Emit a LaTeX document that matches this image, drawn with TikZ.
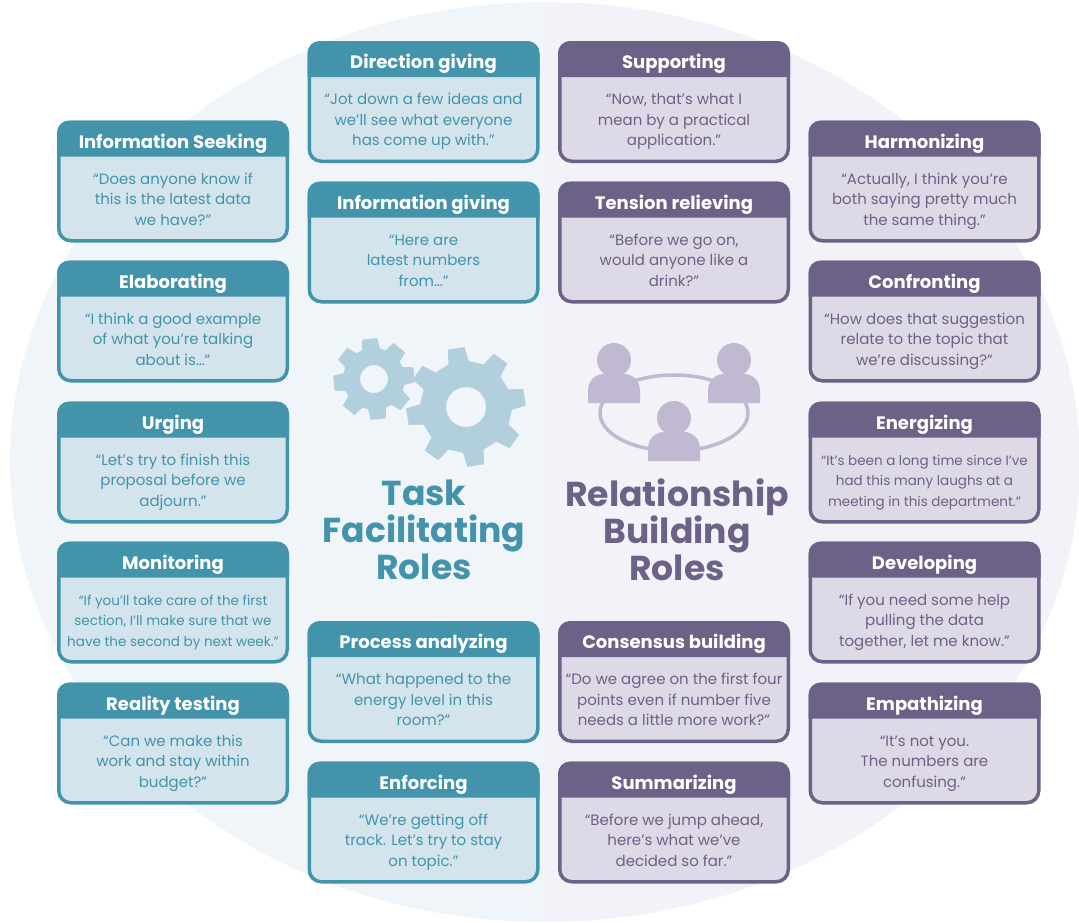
\documentclass[tikz,border=0pt]{standalone}
\usepackage{fontspec}
\setmainfont{Poppins}
\definecolor{tealdark}{HTML}{4393AB}
\definecolor{teallight}{HTML}{D3E4ED}
\definecolor{plumdark}{HTML}{6C6186}
\definecolor{plumlight}{HTML}{DED9E7}
\definecolor{gearblue}{HTML}{B2CFDD}
\definecolor{peoplelilac}{HTML}{C1B9D1}
\definecolor{halfblue}{HTML}{F0F5FA}
\definecolor{halfplum}{HTML}{F2F2F8}
\tikzset{
cardbox/.style={rectangle,rounded corners=12pt,line width=3.5pt,minimum width=228.5pt,minimum height=118.5pt,inner sep=0pt},
cardtitle/.style={white,font=\bfseries\fontsize{18}{21}\selectfont,inner sep=0pt},
cardquote/.style={align=center,inner sep=0pt,font=\fontsize{15}{20.5}\selectfont},
roletitle/.style={align=center,inner sep=0pt,font=\bfseries\fontsize{34.6}{37}\selectfont},
}
\newcommand{\tightquote}{\fontsize{13.5}{20.5}\selectfont}
% name, x, y, colour, title, quote
\newcommand{\rolecard}[6]{
\node[cardbox,draw=#4dark,fill=#4light] (#1) at (#2,#3) {};
\fill[#4dark] ([yshift=-36pt]#1.north west) [rounded corners=12pt] -- (#1.north west) -- (#1.north east) [sharp corners] -- ([yshift=-36pt]#1.north east) -- cycle;
\node[cardtitle] (#1title) at ([yshift=-23.5pt]#1.north) {\strut #5};
\node[cardquote,text=#4dark] (#1quote) at ([yshift=-19pt]#1.center) {\strut #6\strut};
}
% x, y, root radius, tip radius, rotation, hole, half width at root, half width at tip
\newcommand{\gearwheel}[8]{
\fill[gearblue,even odd rule,shift={(#1,#2)}] (#5-#7:#3) \foreach \t in {0,45,...,315}{ -- (#5+\t-#7:#3) -- (#5+\t-#8:#4) -- (#5+\t+#8:#4) -- (#5+\t+#7:#3)} -- cycle (0,0) circle (#6);
}
% x, y of the head
\newcommand{\person}[2]{
\fill[peoplelilac] (#1,#2) circle (17);
\fill[peoplelilac] (#1-26,#2+43) -- (#1-26,#2+31) .. controls (#1-26,#2+20) and (#1-18,#2+14) .. (#1-10,#2+14) -- (#1+10,#2+14) .. controls (#1+18,#2+14) and (#1+26,#2+20) .. (#1+26,#2+31) -- (#1+26,#2+43) -- cycle;
}
\begin{document}
\begin{tikzpicture}[x=1pt,y=-1pt]
\useasboundingbox (0,0) rectangle (1079,922);

\fill[halfblue] (545,2) arc[start angle=90,end angle=270,x radius=535pt,y radius=460pt] -- cycle;
\fill[halfplum] (545,2) arc[start angle=90,end angle=-90,x radius=535pt,y radius=460pt] -- cycle;

\rolecard{seeking}{173}{181.5}{teal}{Information Seeking}{“Does anyone know if\\this is the latest data\\we have?”}
\rolecard{elaborating}{173}{321.5}{teal}{Elaborating}{“I think a good example\\of what you’re talking\\about is…”}
\rolecard{urging}{173}{462.5}{teal}{Urging}{“Let’s try to finish this\\proposal before we\\adjourn.”}
\rolecard{monitoring}{173}{602.5}{teal}{Monitoring}{\tightquote “If you’ll take care of the first\\\tightquote section, I’ll make sure that we\\\tightquote have the second by next week.”}
\rolecard{reality}{173}{743.5}{teal}{Reality testing}{“Can we make this\\work and stay within\\budget?”}

\rolecard{direction}{423.5}{102}{teal}{Direction giving}{“Jot down a few ideas and\\we’ll see what everyone\\has come up with.”}
\rolecard{information}{423.5}{242.5}{teal}{Information giving}{“Here are\\latest numbers\\from…”}
\rolecard{process}{423.5}{682}{teal}{Process analyzing}{“What happened to the\\energy level in this\\room?”}
\rolecard{enforcing}{423.5}{822.5}{teal}{Enforcing}{“We’re getting off\\track. Let’s try to stay\\on topic.”}

\rolecard{supporting}{674}{102}{plum}{Supporting}{“Now, that’s what I\\mean by a practical\\application.”}
\rolecard{tension}{674}{242.5}{plum}{Tension relieving}{“Before we go on,\\would anyone like a\\drink?”}
\rolecard{consensus}{674}{682}{plum}{Consensus building}{“Do we agree on the first four\\points even if number five\\needs a little more work?”}
\rolecard{summarizing}{674}{822.5}{plum}{Summarizing}{“Before we jump ahead,\\here’s what we’ve\\decided so far.”}

\rolecard{harmonizing}{924.5}{181.5}{plum}{Harmonizing}{“Actually, I think you’re\\both saying pretty much\\the same thing.”}
\rolecard{confronting}{924.5}{321.5}{plum}{Confronting}{“How does that suggestion\\relate to the topic that\\we’re discussing?”}
\rolecard{energizing}{924.5}{462.5}{plum}{Energizing}{\tightquote “It’s been a long time since I’ve\\\tightquote had this many laughs at a\\\tightquote meeting in this department.”}
\rolecard{developing}{924.5}{602.5}{plum}{Developing}{“If you need some help\\pulling the data\\together, let me know.”}
\rolecard{empathizing}{924.5}{743.5}{plum}{Empathizing}{“It’s not you.\\The numbers are\\confusing.”}

\gearwheel{374}{379}{31}{41}{-96}{14}{17}{10.5}
\gearwheel{466}{407}{46}{60}{-99.5}{20}{13}{8}

\draw[peoplelilac,line width=3.5pt] (674,413) ellipse (74 and 38);
\person{614}{360}
\person{734}{360}
\person{674}{418}

\node[roletitle,text=tealdark] (taskroles) at (424,530) {Task\\Facilitating\\Roles};
\node[roletitle,text=plumdark] (relationroles) at (677,530) {Relationship\\Building\\Roles};
\end{tikzpicture}
\end{document}
